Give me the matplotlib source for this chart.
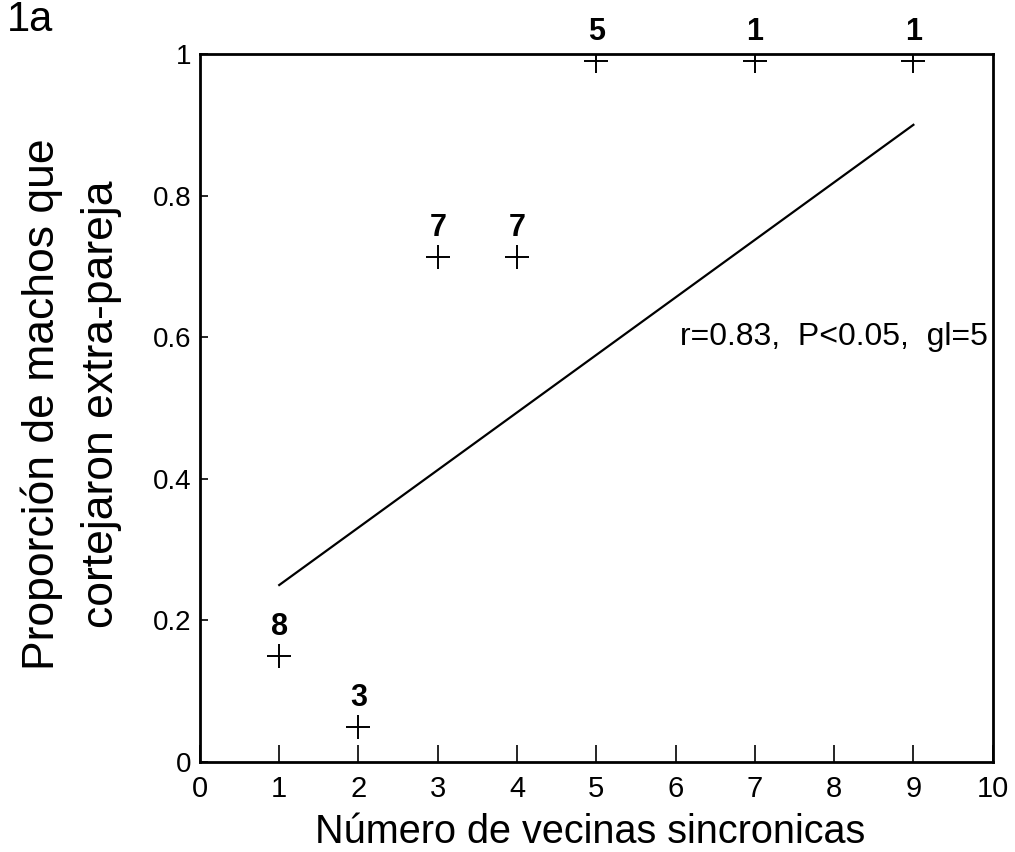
import matplotlib
matplotlib.use("Agg")
import matplotlib.pyplot as plt
import numpy as np

plt.rcParams['font.family'] = ['Liberation Sans', 'DejaVu Sans']

# data
vecinas = [1, 2, 3, 4, 5, 7, 9]
proporcion = [0.15, 0.05, 0.714, 0.714, 0.99, 0.99, 0.99]
n_machos = ['8', '3', '7', '7', '5', '1', '1']
recta_x = [1, 9]
recta_y = [0.25, 0.90]
x_ticks = list(range(0, 11))
y_ticks = [0, 0.2, 0.4, 0.6, 0.8, 1]
y_tick_labels = ['0', '0.2', '0.4', '0.6', '0.8', '1']

fig = plt.figure(figsize=(10.15, 8.52), dpi=100)
ax = fig.add_axes([0.197, 0.1056, 0.781, 0.831])

ax.plot(vecinas, proporcion, linestyle='none', marker='+', markersize=17,
        markeredgewidth=1.4, color='black')
ax.plot(recta_x, recta_y, color='black', linewidth=1.6)

for x, y, n in zip(vecinas, proporcion, n_machos):
    ax.annotate(n, (x, y), xytext=(0, 10), textcoords='offset points',
                ha='center', va='bottom', fontsize=22, fontweight='bold')

ax.text(6.05, 0.6, 'r=0.83,  P<0.05,  gl=5', fontsize=23, ha='left', va='center')

ax.set_xlim(0, 10)
ax.set_ylim(0, 1)
ax.set_xticks(x_ticks)
ax.set_yticks(y_ticks)
ax.set_yticklabels(y_tick_labels)
ax.tick_params(axis='x', direction='in', length=12, width=1.2, labelsize=21, pad=9)
ax.tick_params(axis='y', direction='in', length=6, width=1.2, labelsize=20, pad=6)
for s in ax.spines.values():
    s.set_linewidth(2)

ax.set_xlabel('Número de vecinas sincronicas', fontsize=28.5, va='baseline')
ax.xaxis.set_label_coords(0.492, -0.1144)
ax.set_ylabel('Proporción de machos que\ncortejaron extra-pareja', fontsize=32,
              linespacing=1.55, va='center')
ax.yaxis.set_label_coords(-0.162, 0.506)

fig.text(0.007, 0.976, '1a', fontsize=30, ha='left', va='center')

fig.savefig('out.png', dpi=100)
